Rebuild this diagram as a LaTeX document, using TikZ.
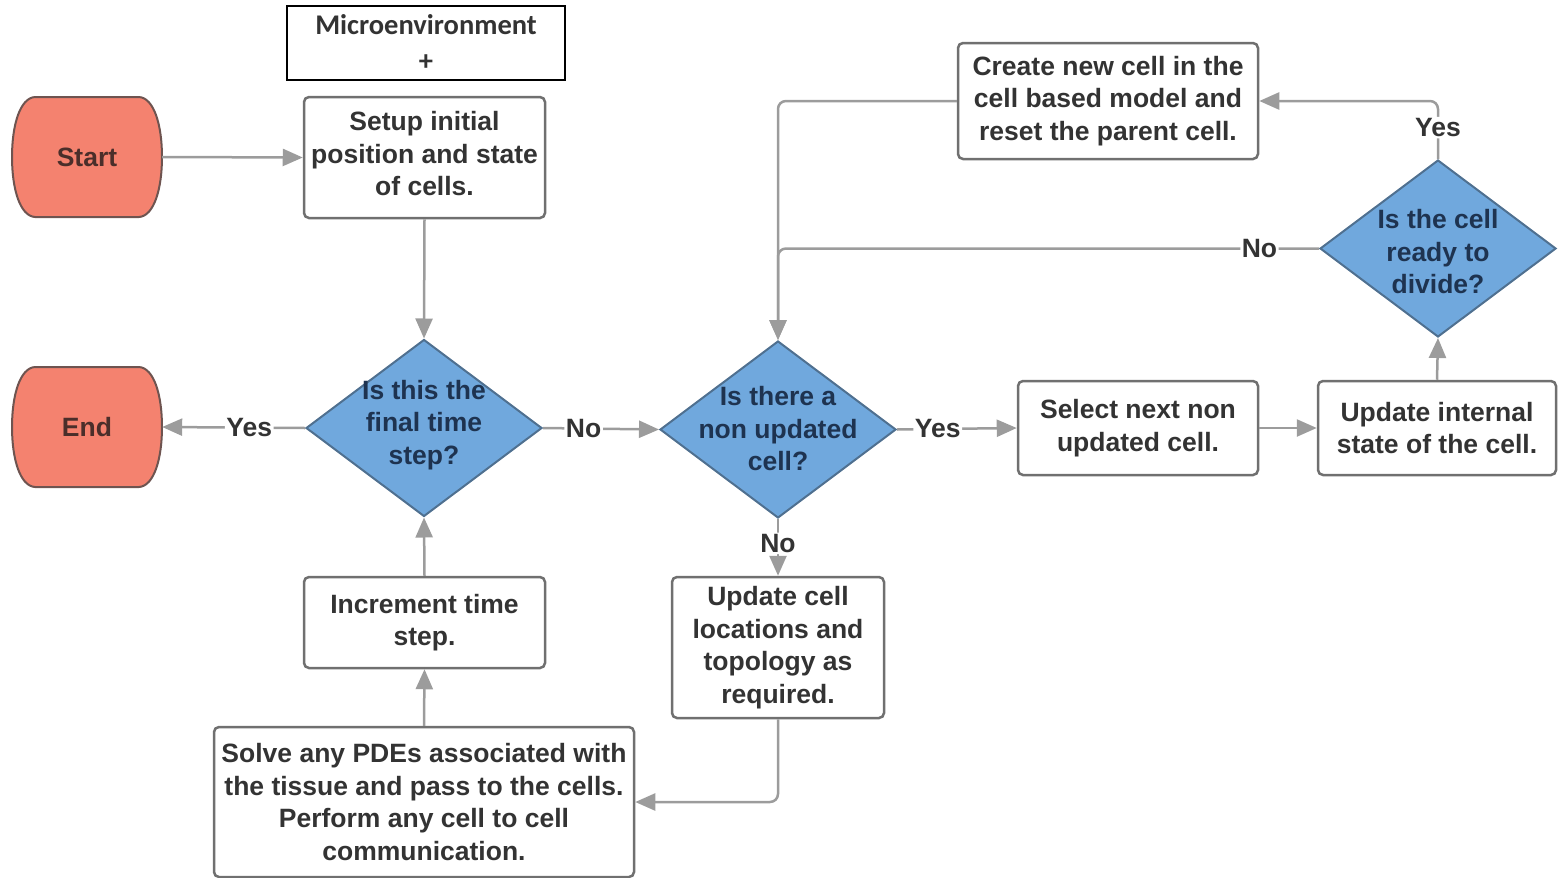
\documentclass[tikz,border=0pt]{standalone}
\usepackage{fontspec}
\setmainfont{Liberation Sans}
\newfontfamily\calib{Carlito}
\usetikzlibrary{shapes.geometric,arrows.meta}

\definecolor{termfill}{HTML}{F4826F}
\definecolor{termline}{HTML}{6E5450}
\definecolor{termtext}{HTML}{4A2E2A}
\definecolor{decfill}{HTML}{70A8DD}
\definecolor{decline}{HTML}{4F7090}
\definecolor{dectext}{HTML}{1E3350}
\definecolor{boxline}{HTML}{707070}
\definecolor{boxtext}{HTML}{333333}
\definecolor{flow}{HTML}{9C9C9C}

\begin{document}
\begin{tikzpicture}[x=1pt,y=-1pt,
  font=\bfseries\fontsize{26.5}{32.5}\selectfont,
  terminal/.style={rectangle, minimum width=150pt, minimum height=120pt,
    inner sep=0pt, text=termtext},
  termshape/.style={fill=termfill, draw=termline, line width=2pt},
  decision/.style={diamond, minimum width=236pt, minimum height=177pt,
    inner sep=0pt, fill=decfill, draw=decline, line width=2pt},
  dectxt/.style={text=dectext, align=center, inner sep=0pt},
  procbox/.style={rectangle, rounded corners=5pt, draw=boxline, line width=2.5pt,
    fill=white, text=boxtext, align=center, inner sep=0pt},
  flowline/.style={draw=flow, line width=2.5pt, rounded corners=8pt,
    -{Triangle[length=20pt,width=17pt]}},
  flowlabel/.style={fill=white, text=boxtext, inner sep=1.5pt},
]
\useasboundingbox (0,0) rectangle (1558,878);

% header box
\node (micro) [draw=black, line width=2pt, minimum width=278pt, minimum height=74pt,
  inner sep=0pt, align=center, text=boxtext,
  font=\calib\bfseries\fontsize{28.5}{36}\selectfont] at (426,43) {Microenvironment\\+};

% terminal outlines: flat top and bottom, bulging sides
\foreach \cy in {157,427}
  \path[termshape, shift={(87,\cy)}]
    (-52,-60) -- (52,-60)
    .. controls (67,-59) and (75,-32) .. (75,0)
    .. controls (75,32) and (67,59) .. (52,60)
    -- (-52,60)
    .. controls (-67,59) and (-75,32) .. (-75,0)
    .. controls (-75,-32) and (-67,-59) .. (-52,-60) -- cycle;
\node (start) [terminal] at (87,157) {Start};
\node (end)   [terminal] at (87,427) {End};

% process boxes
\node (setup)  [procbox, minimum width=241pt, minimum height=121pt] at (424.5,157.5) {};
\node (setupt) [text=boxtext, align=center, inner sep=0pt] at (424.5,154)
  {Setup initial\\position and state\\of cells.};
\node (create) [procbox, minimum width=300pt, minimum height=116pt] at (1108,101)
  {Create new cell in the\\cell based model and\\reset the parent cell.};
\node (select) [procbox, minimum width=240pt, minimum height=94pt] at (1138,428)
  {Select next non\\updated cell.};
\node (intern) [procbox, minimum width=238pt, minimum height=94pt] at (1437,428)
  {Update internal\\state of the cell.};
\node (incr)   [procbox, minimum width=241pt, minimum height=91pt] at (424.5,622.5)
  {Increment time\\step.};
\node (locs)   [procbox, minimum width=212pt, minimum height=141pt] at (778,647.5)
  {Update cell\\locations and\\topology as\\required.};
\node (solve)  [procbox, minimum width=420pt, minimum height=150pt] at (424,802)
  {Solve any PDEs associated with\\the tissue and pass to the cells.\\Perform any cell to cell\\communication.};

% decisions
\node (d1) [decision] at (424,428) {};
\node (d1t) [dectxt] at (424,425) {Is this the\\final time\\step?};
\node (d2) [decision] at (778,429.5) {};
\node (d2t) [dectxt] at (778,429) {Is there a\\non updated\\cell?};
\node (d3) [decision] at (1438,248.5) {};
\node (d3t) [dectxt] at (1438,252) {Is the cell\\ready to\\divide?};

% connectors
\draw[flowline] (start.east) -- (setup.west);
\draw[flowline] (setup.south) -- (d1.north);
\draw[flowline] (d1.west) -- node[flowlabel, pos=0.39] (l1) {Yes} (end.east);
\draw[flowline] (d1.east) -- node[flowlabel, pos=0.35] (l2) {No} (d2.west);
\draw[flowline] (d2.east) -- node[flowlabel, pos=0.34] (l3) {Yes} (select.west);
\draw[flowline] (d2.south) -- node[flowlabel, pos=0.43] (l4) {No} (locs.north);
\draw[flowline] (select.east) -- (intern.west);
\draw[flowline] (intern.north) -- (d3.south);
\draw[flowline] (d3.north) |- node[flowlabel, pos=0.27] (l5) {Yes} (create.east);
\draw[flowline] (d3.west) -| node[flowlabel, pos=0.055] (l6) {No} (d2.north);
\draw[flowline] (create.west) -| (d2.north);
\draw[flowline] (locs.south) |- (solve.east);
\draw[flowline] (solve.north) -- (incr.south);
\draw[flowline] (incr.north) -- (d1.south);
\end{tikzpicture}
\end{document}
